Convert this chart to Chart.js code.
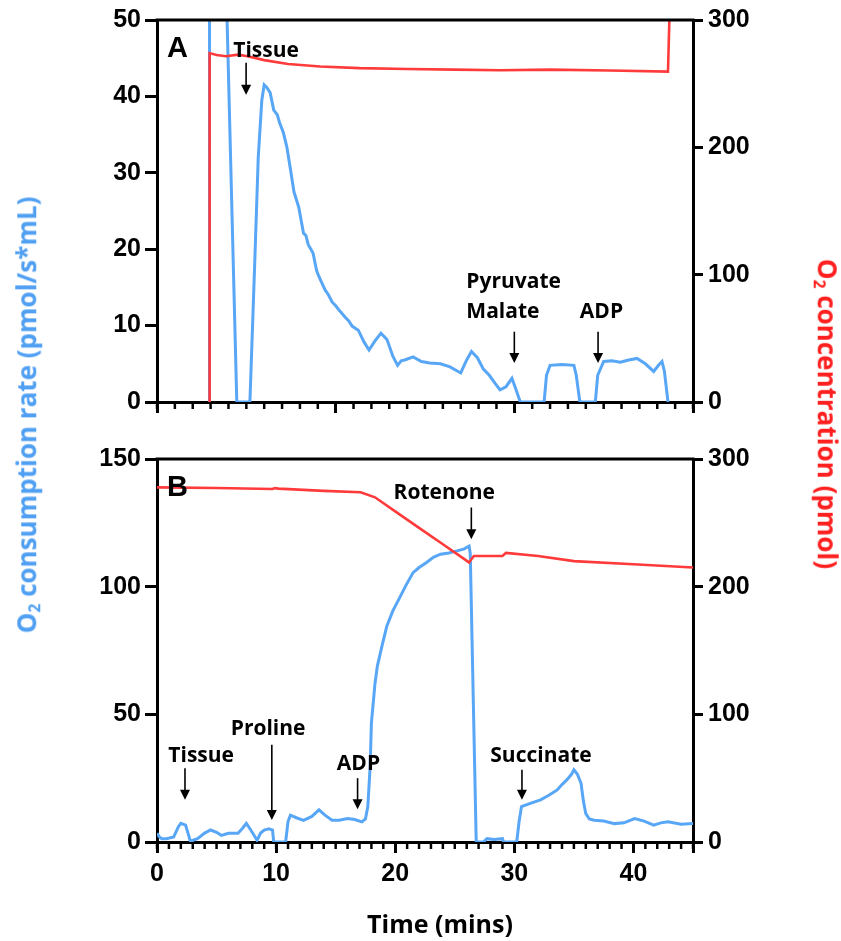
<!DOCTYPE html>
<html>
<head>
<meta charset="utf-8">
<script src="https://cdn.jsdelivr.net/npm/chart.js@4.4.1/dist/chart.umd.min.js"></script>
<style>
  body { margin: 0; background: #fff; }
  #wrap { position: relative; width: 841px; height: 941px; background: #fff; overflow: hidden; }
  canvas { position: absolute; left: 0; }
  .title { position: absolute; white-space: nowrap; font-family: "Open Sans", sans-serif; font-weight: 700; font-size: 26px; line-height: 1; }
  .title sub { font-size: 0.6em; vertical-align: -0.25em; }
</style>
</head>
<body>
<div id="wrap">
  <canvas id="chartA" width="841" height="430" style="top:0"></canvas>
  <canvas id="chartB" width="841" height="511" style="top:430px"></canvas>
  <div class="title" id="leftTitle" style="left:28px; top:415px; color:#4f9ff2; transform:translate(-50%,-50%) rotate(-90deg);">O<sub>2</sub> consumption rate (pmol/s*mL)</div>
  <div class="title" id="rightTitle" style="left:826px; top:414px; color:#ff1f1f; transform:translate(-50%,-50%) rotate(90deg);">O<sub>2</sub> concentration (pmol)</div>
  <div class="title" id="xTitle" style="left:440px; top:923px; color:#000; font-size:25px; transform:translate(-50%,-50%);">Time (mins)</div>
</div>
<script>
// Panel A - O2 consumption rate (left axis)
const aRateTime = [4.4, 4.41, 5.72, 6.7, 7.8, 8.2, 8.5, 8.8, 9.0, 9.2, 9.5, 9.8, 10.1, 10.3, 10.6, 10.9, 11.2, 11.5, 11.9, 12.3, 12.5, 12.7, 13.1, 13.4, 13.6, 14.1, 14.4, 14.7, 15.0, 15.3, 15.8, 16.1, 16.4, 16.9, 17.4, 17.8, 18.3, 18.8, 19.3, 19.8, 20.2, 20.5, 20.8, 21.5, 22.2, 22.9, 23.8, 24.6, 25.5, 26.0, 26.4, 26.9, 27.4, 27.9, 28.4, 28.8, 29.3, 29.8, 30.1, 30.5, 32.5, 32.7, 33.0, 34.0, 35.0, 35.2, 35.5, 36.8, 37.0, 37.5, 38.2, 38.9, 39.6, 40.3, 41.0, 41.7, 42.1, 42.4, 42.6, 42.9];
const aRate = [0, 60, 60, 0, 0, 18, 32, 39.5, 41.5, 41.2, 40.5, 38.2, 37.6, 36.5, 35.3, 33.4, 30.5, 27.5, 25.5, 22.1, 21.8, 20.6, 19.5, 17.2, 16.4, 14.7, 14.0, 13.1, 12.6, 12.0, 11.1, 10.6, 9.9, 9.4, 7.8, 6.8, 8.0, 9.0, 8.2, 6.0, 4.8, 5.4, 5.5, 5.9, 5.3, 5.1, 5.0, 4.6, 3.8, 5.5, 6.6, 5.8, 4.3, 3.5, 2.4, 1.6, 2.0, 3.1, 1.8, 0, 0, 3.5, 4.8, 4.9, 4.8, 3.5, 0, 0, 3.5, 5.3, 5.4, 5.2, 5.5, 5.7, 5.0, 4.0, 4.8, 5.3, 4.0, 0];

// Panel A - O2 concentration (right axis)
const aO2Time = [4.4, 4.42, 5.0, 5.8, 6.8, 7.6, 9.0, 11.0, 13.7, 17.0, 21.0, 25.0, 28.8, 33.0, 38.0, 42.9, 43.1];
const aO2 = [0, 274, 272.5, 271.5, 272.8, 271.5, 268.5, 265.5, 263.5, 262.2, 261.5, 261, 260.5, 261, 260.3, 259.5, 330];

// Panel B - O2 consumption rate (left axis)
const bRateTime = [0, 0.2, 0.4, 0.8, 1.4, 1.8, 2.0, 2.4, 2.6, 2.8, 3.4, 4.0, 4.5, 5.0, 5.4, 6.0, 6.8, 7.2, 7.5, 7.9, 8.4, 8.7, 9.0, 9.4, 9.7, 9.8, 10.8, 11.0, 11.2, 11.7, 12.3, 13.0, 13.6, 14.1, 14.7, 15.3, 16.0, 16.6, 17.2, 17.5, 17.7, 17.9, 18.0, 18.3, 18.5, 18.9, 19.3, 19.8, 20.3, 20.9, 21.5, 22.0, 22.6, 23.2, 23.8, 24.5, 25.2, 25.8, 26.2, 26.3, 26.8, 27.4, 27.7, 28.3, 29.0, 29.1, 30.2, 30.4, 30.6, 31.4, 32.2, 32.9, 33.6, 34.0, 34.4, 34.8, 35.0, 35.3, 35.6, 35.8, 36.0, 36.3, 36.7, 37.5, 38.4, 39.2, 40.1, 40.9, 41.7, 42.3, 42.9, 44.0, 45];
const bRate = [3.4, 2, 1.3, 1.3, 2, 6, 7.3, 6.6, 3.5, 0.3, 1.3, 3.5, 4.7, 3.8, 2.6, 3.4, 3.4, 5.5, 7.3, 4.5, 0.7, 3.5, 4.7, 5.2, 4.7, 0, 0, 8, 10.5, 9.5, 8.5, 10, 12.6, 10.5, 8.5, 8.5, 9.2, 8.8, 7.9, 9, 13.9, 30, 46.6, 62, 68.9, 77, 84.6, 90.5, 95, 100.5, 105.5, 107.5, 109.4, 111.5, 112.7, 113.2, 114, 114.8, 115.9, 113, 0, 0, 1.3, 1.0, 1.3, 0, 0, 8, 13.9, 15.2, 16.5, 18.3, 20.4, 22.5, 24.3, 26.5, 28.3, 26.5, 23, 16, 11.1, 9.0, 8.5, 8.2, 7.2, 7.5, 9.2, 8.2, 6.6, 7.5, 7.9, 7.0, 7.2];

// Panel B - O2 concentration (right axis)
const bO2Time = [0, 5, 9.7, 9.9, 10.2, 14, 17.1, 18.3, 20, 22, 24, 26.2, 26.6, 29.0, 29.3, 32, 35, 40, 45];
const bO2 = [277.8, 277.3, 276.5, 277.2, 276.8, 275, 273.9, 270, 259, 246, 233.2, 219, 224, 224, 226.5, 224, 220, 217.5, 215];

// annotations (x in mins, y in left-axis units)
const labelsA = [
  { text: "Tissue", x: 6.4, y: 45.2 },
  { text: "Pyruvate", x: 25.97, y: 14.9 },
  { text: "Malate", x: 25.97, y: 11.0 },
  { text: "ADP", x: 35.5, y: 11.0 },
];
const arrowsA = [
  { x: 7.48, from: 44.4, to: 40.2 },
  { x: 30.0, from: 9.2, to: 5.1 },
  { x: 37.03, from: 9.2, to: 5.1 },
];
const labelsB = [
  { text: "Tissue", x: 0.95, y: 31.5 },
  { text: "Proline", x: 6.19, y: 42.0 },
  { text: "ADP", x: 15.1, y: 28.3 },
  { text: "Rotenone", x: 19.86, y: 134.3 },
  { text: "Succinate", x: 27.98, y: 31.5 },
];
const arrowsB = [
  { x: 2.35, from: 28.9, to: 16.5 },
  { x: 9.64, from: 38.1, to: 8.6 },
  { x: 16.84, from: 25.0, to: 12.8 },
  { x: 26.39, from: 131.0, to: 118.6 },
  { x: 30.64, from: 28.3, to: 16.5 },
];

const BLUE = "#58a6f6";
const RED = "#ff3a3a";
const tickFont = { family: "'Liberation Sans', Arial, sans-serif", size: 25, weight: "bold" };

function pts(xs, ys) {
  return xs.map((x, i) => ({ x: x, y: ys[i] }));
}

const decor = {
  id: "decor",
  afterDraw(chart, args, opts) {
    const { ctx, chartArea: a, scales } = chart;
    const x = scales.x, y = scales.y;
    ctx.save();
    ctx.strokeStyle = "#000";
    ctx.lineWidth = 3;
    // top edge of the box
    ctx.beginPath();
    ctx.moveTo(a.left - 1.5, a.top);
    ctx.lineTo(a.right + 1.5, a.top);
    ctx.stroke();
    // minor ticks on time axis
    ctx.lineWidth = 2.5;
    const n = Math.round(x.max / opts.minor);
    for (let i = 0; i <= n; i++) {
      const px = x.getPixelForValue(i * opts.minor);
      ctx.beginPath();
      ctx.moveTo(px, a.bottom);
      ctx.lineTo(px, a.bottom + 7);
      ctx.stroke();
    }
    // panel letter
    ctx.fillStyle = "#000";
    ctx.font = "bold 29px 'Liberation Sans', Arial, sans-serif";
    ctx.textBaseline = "alphabetic";
    ctx.textAlign = "left";
    ctx.fillText(opts.letter, a.left + 10, a.top + 37);
    // text labels
    ctx.font = "bold 21px 'Open Sans', sans-serif";
    opts.labels.forEach((l) => {
      ctx.fillText(l.text, x.getPixelForValue(l.x), y.getPixelForValue(l.y));
    });
    // arrows
    ctx.lineWidth = 1.6;
    opts.arrows.forEach((ar) => {
      const px = x.getPixelForValue(ar.x);
      const y1 = y.getPixelForValue(ar.from);
      const y2 = y.getPixelForValue(ar.to);
      ctx.beginPath();
      ctx.moveTo(px, y1);
      ctx.lineTo(px, y2 - 6);
      ctx.stroke();
      ctx.beginPath();
      ctx.moveTo(px - 5, y2 - 10);
      ctx.lineTo(px + 5, y2 - 10);
      ctx.lineTo(px, y2);
      ctx.closePath();
      ctx.fill();
    });
    ctx.restore();
  },
};

function makeChart(id, cfg) {
  return new Chart(document.getElementById(id), {
    type: "line",
    data: {
      datasets: [
        {
          label: "O2 concentration",
          data: pts(cfg.o2Time, cfg.o2),
          yAxisID: "y2",
          borderColor: RED,
          borderWidth: 2.6,
          pointRadius: 0,
          tension: 0,
        },
        {
          label: "O2 consumption rate",
          data: pts(cfg.rateTime, cfg.rate),
          yAxisID: "y",
          borderColor: BLUE,
          borderWidth: 3,
          pointRadius: 0,
          tension: 0,
        },
      ],
    },
    plugins: [decor],
    options: {
      responsive: false,
      animation: false,
      devicePixelRatio: 1,
      layout: { padding: { top: cfg.padTop, left: 0, right: 0, bottom: 0 } },
      plugins: {
        legend: { display: false },
        tooltip: { enabled: false },
        decor: { minor: cfg.minor, letter: cfg.letter, labels: cfg.labels, arrows: cfg.arrows },
      },
      scales: {
        x: {
          type: "linear",
          min: 0,
          max: 45,
          ticks: {
            stepSize: cfg.xStep,
            display: cfg.xLabels,
            color: "#000",
            font: tickFont,
            padding: 6,
            maxRotation: 0,
            callback: (v) => (v > 40 ? "" : v),
          },
          grid: { drawOnChartArea: false, tickLength: 11, lineWidth: 3, color: "#000" },
          border: { width: 3, color: "#000" },
          afterFit: (s) => { s.height = cfg.xHeight; },
        },
        y: {
          position: "left",
          min: 0,
          max: cfg.yMax,
          ticks: { stepSize: cfg.yStep, color: "#000", font: tickFont, padding: 4 },
          grid: { drawOnChartArea: false, tickLength: 12, lineWidth: 3, color: "#000" },
          border: { width: 3, color: "#000" },
          afterFit: (s) => { s.width = 157; },
        },
        y2: {
          position: "right",
          min: 0,
          max: 300,
          ticks: { stepSize: 100, color: "#000", font: tickFont, padding: 5 },
          grid: { drawOnChartArea: false, tickLength: 10, lineWidth: 3, color: "#000" },
          border: { width: 3, color: "#000" },
          afterFit: (s) => { s.width = 148; },
        },
      },
    },
  });
}

makeChart("chartA", {
  rateTime: aRateTime, rate: aRate, o2Time: aO2Time, o2: aO2,
  yMax: 50, yStep: 10, xStep: 15, xLabels: false, minor: 1.5,
  padTop: 19, xHeight: 28, letter: "A", labels: labelsA, arrows: arrowsA,
});

makeChart("chartB", {
  rateTime: bRateTime, rate: bRate, o2Time: bO2Time, o2: bO2,
  yMax: 150, yStep: 50, xStep: 10, xLabels: true, minor: 1,
  padTop: 29, xHeight: 99, letter: "B", labels: labelsB, arrows: arrowsB,
});
</script>
</body>
</html>
